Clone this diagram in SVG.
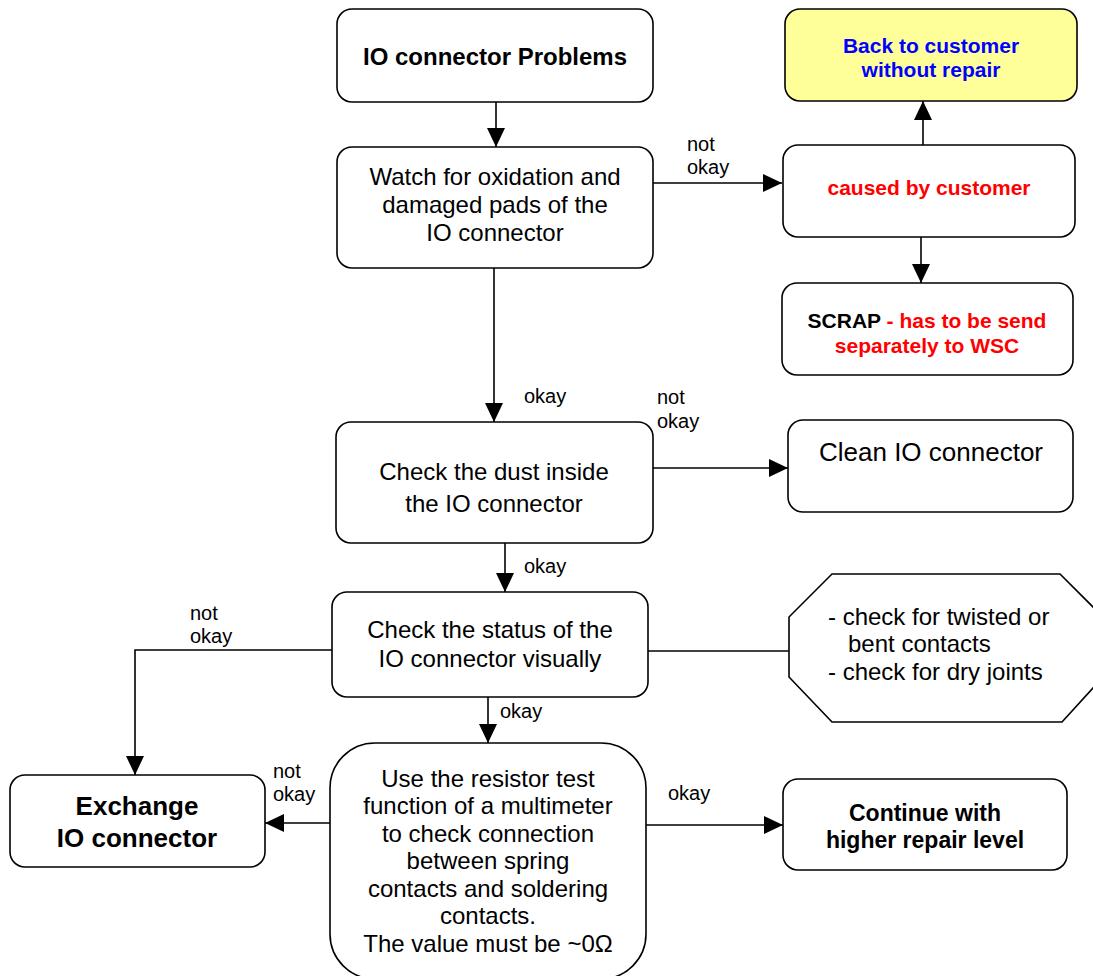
<svg xmlns="http://www.w3.org/2000/svg" width="1093" height="976" viewBox="0 0 1093 976">
<defs>
<marker id="arr" markerUnits="userSpaceOnUse" markerWidth="19" markerHeight="18" refX="19" refY="9" orient="auto">
<path d="M0,0 L19,9 L0,18 z" fill="#000"/>
</marker>
<style>
.box{fill:#fff;stroke:#000;stroke-width:1.6}
.yel{fill:#FFFF99;stroke:#000;stroke-width:1.6}
.t{font-family:"Liberation Sans",Arial,sans-serif;font-size:24px;fill:#000;text-anchor:middle}
.b{font-weight:bold}
.lbl{font-family:"Liberation Sans",Arial,sans-serif;font-size:20px;fill:#000}
.blue{fill:#0000FF}
.red{fill:#FF0000}
.c{fill:none;stroke:#000;stroke-width:1.6}
.a{marker-end:url(#arr)}
</style>
</defs>
<rect width="1093" height="976" fill="#fff"/>

<g id="connectors">
<line class="c a" x1="496" y1="102" x2="496" y2="147"/>
<line class="c a" x1="653" y1="183" x2="782" y2="183"/>
<line class="c a" x1="923" y1="145" x2="923" y2="101"/>
<line class="c a" x1="921" y1="237" x2="921" y2="283"/>
<line class="c a" x1="494" y1="268" x2="494" y2="422"/>
<line class="c a" x1="653" y1="468" x2="788" y2="468"/>
<line class="c a" x1="505" y1="543" x2="505" y2="592"/>
<polyline class="c a" points="332,650 135,650 135,775"/>
<line class="c" x1="648" y1="651" x2="789" y2="651"/>
<line class="c a" x1="488" y1="697" x2="488" y2="743"/>
<line class="c a" x1="330" y1="823" x2="265" y2="823"/>
<line class="c a" x1="646" y1="825" x2="783" y2="825"/>
<text class="lbl" x="687" y="151">not</text>
<text class="lbl" x="687" y="174">okay</text>
<text class="lbl" x="524" y="403">okay</text>
<text class="lbl" x="657" y="404">not</text>
<text class="lbl" x="657" y="428">okay</text>
<text class="lbl" x="524" y="573">okay</text>
<text class="lbl" x="190" y="620">not</text>
<text class="lbl" x="190" y="643">okay</text>
<text class="lbl" x="500" y="718">okay</text>
<text class="lbl" x="273" y="778">not</text>
<text class="lbl" x="273" y="801">okay</text>
<text class="lbl" x="668" y="800">okay</text>
</g>

<g id="n-start">
<rect class="box" x="337" y="9" width="316" height="93" rx="15"/>
<text class="t b" x="495" y="65">IO connector Problems</text>
</g>

<g id="n-watch">
<rect class="box" x="337" y="147" width="316" height="121" rx="15"/>
<text class="t" x="495" y="185">Watch for oxidation and</text>
<text class="t" x="495" y="213">damaged pads of the</text>
<text class="t" x="495" y="241">IO connector</text>
</g>

<g id="n-back">
<rect class="yel" x="785" y="9" width="292" height="92" rx="15"/>
<text class="t b blue" x="931" y="53" style="font-size:21px">Back to customer</text>
<text class="t b blue" x="931" y="77" style="font-size:21px">without repair</text>
</g>

<g id="n-caused">
<rect class="box" x="783" y="145" width="292" height="92" rx="15"/>
<text class="t b red" x="929" y="195" style="font-size:21px">caused by customer</text>
</g>

<g id="n-scrap">
<rect class="box" x="782" y="283" width="291" height="92" rx="15"/>
<text class="t b" x="927" y="328" style="font-size:21px">SCRAP<tspan class="red"> - has to be send</tspan></text>
<text class="t b red" x="927" y="353" style="font-size:21px">separately to WSC</text>
</g>

<g id="n-dust">
<rect class="box" x="336" y="422" width="317" height="121" rx="15"/>
<text class="t" x="494" y="480">Check the dust inside</text>
<text class="t" x="494" y="512">the IO connector</text>
</g>

<g id="n-clean">
<rect class="box" x="788" y="420" width="285" height="92" rx="15"/>
<text class="t" x="931" y="461" style="font-size:26px">Clean IO connector</text>
</g>

<g id="n-status">
<rect class="box" x="332" y="592" width="316" height="105" rx="15"/>
<text class="t" x="490" y="638">Check the status of the</text>
<text class="t" x="490" y="667">IO connector visually</text>
</g>

<g id="n-hints">
<polygon class="box" points="832,574 1060,574 1103,617 1103,677 1062,722 832,722 789,677 789,617"/>
<text class="t" x="828" y="625" style="text-anchor:start">- check for twisted or</text>
<text class="t" x="848" y="652" style="text-anchor:start">bent contacts</text>
<text class="t" x="828" y="680" style="text-anchor:start">- check for dry joints</text>
</g>

<g id="n-exchange">
<rect class="box" x="10" y="775" width="255" height="92" rx="15"/>
<text class="t b" x="137" y="815" style="font-size:26px">Exchange</text>
<text class="t b" x="137" y="847" style="font-size:26px">IO connector</text>
</g>

<g id="n-resistor">
<rect class="box" x="330" y="743" width="316" height="236" rx="45"/>
<text class="t" x="488" y="787">Use the resistor test</text>
<text class="t" x="488" y="814">function of a multimeter</text>
<text class="t" x="488" y="842">to check connection</text>
<text class="t" x="488" y="869">between spring</text>
<text class="t" x="488" y="897">contacts and soldering</text>
<text class="t" x="488" y="924">contacts.</text>
<text class="t" x="488" y="952">The value must be ~0Ω</text>
</g>

<g id="n-continue">
<rect class="box" x="783" y="779" width="284" height="91" rx="15"/>
<text class="t b" x="925" y="821" style="font-size:23px">Continue with</text>
<text class="t b" x="925" y="848" style="font-size:23px">higher repair level</text>
</g>
</svg>
